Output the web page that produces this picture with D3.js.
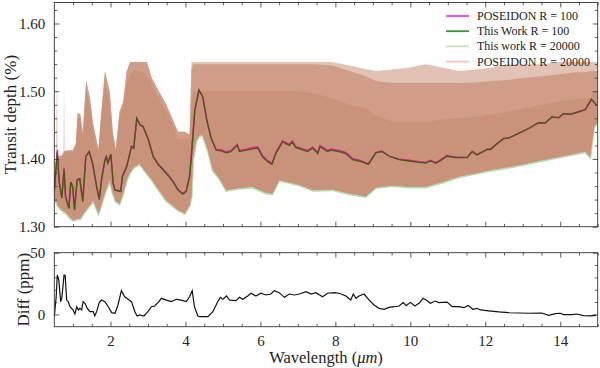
<!DOCTYPE html>
<html>
<head>
<meta charset="utf-8">
<script src="https://cdn.jsdelivr.net/npm/d3@7"></script>
<style>
  body { margin: 0; background: #fff; }
  text { font-family: "Liberation Serif", "DejaVu Serif", serif; fill: #222; }
</style>
</head>
<body>
<script>
// high resolution (R = 20000) spectra, read off as an envelope:
// lower edge, solid core top, dense-spike top, tallest spikes
var bandWl   = [0.50,0.55,0.57,0.59,0.64,0.70,0.745,0.76,0.775,0.83,0.90,1.00,1.08,1.12,1.19,1.26,1.35,1.45,1.54,1.62,1.68,1.74,1.85,1.98,2.06,2.14,2.24,2.34,2.43,2.52,2.62,2.78,2.97,3.10,3.23,3.49,3.67,3.80,3.98,4.11,4.16,4.20,4.29,4.38,4.46,4.60,4.73,4.90,5.09,5.44,5.79,6.15,6.32,6.50,7.03,7.40,7.92,8.37,8.81,9.08,9.52,9.97,10.41,10.85,11.30,11.74,12.18,12.63,13.07,13.51,13.96,14.40,14.67,14.80,14.90,15.00];
var bandLow  = [1.340,1.336,1.335,1.332,1.328,1.325,1.323,1.322,1.322,1.320,1.315,1.310,1.311,1.312,1.312,1.318,1.325,1.332,1.339,1.328,1.320,1.330,1.350,1.369,1.350,1.338,1.334,1.350,1.369,1.380,1.388,1.393,1.379,1.370,1.359,1.339,1.331,1.325,1.320,1.332,1.345,1.400,1.428,1.435,1.435,1.413,1.384,1.372,1.354,1.357,1.359,1.350,1.349,1.369,1.362,1.354,1.355,1.349,1.345,1.358,1.361,1.359,1.359,1.366,1.374,1.379,1.384,1.388,1.393,1.398,1.403,1.408,1.411,1.403,1.447,1.455];
var bandCore = [1.380,1.400,1.400,1.400,1.400,1.400,1.405,1.410,1.410,1.410,1.410,1.410,1.420,1.460,1.460,1.430,1.500,1.480,1.440,1.420,1.410,1.450,1.515,1.480,1.430,1.410,1.460,1.480,1.510,1.525,1.530,1.530,1.525,1.510,1.495,1.470,1.450,1.430,1.430,1.430,1.480,1.500,1.500,1.500,1.500,1.500,1.500,1.500,1.500,1.500,1.500,1.500,1.500,1.500,1.500,1.497,1.490,1.480,1.475,1.465,1.455,1.455,1.455,1.458,1.460,1.462,1.466,1.470,1.475,1.480,1.485,1.488,1.490,1.490,1.500,1.500];
var bandMid  = [1.380,1.400,1.400,1.400,1.405,1.405,1.410,1.410,1.412,1.412,1.413,1.413,1.425,1.467,1.467,1.440,1.516,1.490,1.450,1.430,1.415,1.460,1.529,1.500,1.440,1.415,1.470,1.485,1.529,1.543,1.543,1.543,1.543,1.520,1.506,1.480,1.457,1.440,1.440,1.436,1.530,1.540,1.540,1.540,1.540,1.540,1.540,1.540,1.540,1.540,1.540,1.540,1.540,1.540,1.540,1.540,1.538,1.530,1.522,1.515,1.512,1.512,1.512,1.512,1.512,1.513,1.515,1.517,1.520,1.522,1.525,1.528,1.528,1.530,1.530,1.530];
var bandMax  = [1.380,1.400,1.543,1.400,1.405,1.405,1.410,1.511,1.412,1.412,1.413,1.413,1.425,1.467,1.467,1.440,1.516,1.490,1.450,1.430,1.415,1.460,1.529,1.500,1.440,1.415,1.470,1.485,1.529,1.543,1.543,1.543,1.543,1.520,1.506,1.480,1.457,1.440,1.440,1.436,1.543,1.543,1.543,1.543,1.543,1.543,1.543,1.543,1.543,1.543,1.543,1.543,1.543,1.543,1.543,1.543,1.543,1.538,1.533,1.530,1.532,1.535,1.540,1.535,1.530,1.532,1.535,1.540,1.540,1.540,1.543,1.543,1.543,1.543,1.543,1.543];

// binned (R = 100) spectra
var lowWl = [0.50,0.58,0.63,0.70,0.76,0.80,0.89,0.94,0.99,1.04,1.11,1.18,1.26,1.34,1.43,1.52,1.63,1.70,1.76,1.85,1.89,1.93,2.01,2.07,2.12,2.27,2.32,2.43,2.56,2.62,2.70,2.79,2.87,3.01,3.14,3.28,3.40,3.53,3.67,3.80,3.93,4.02,4.11,4.16,4.25,4.36,4.46,4.57,4.69,4.82,4.95,5.09,5.22,5.38,5.44,5.62,5.79,5.93,6.06,6.19,6.31,6.41,6.59,6.77,6.85,6.94,7.26,7.39,7.53,7.59,7.79,7.88,8.10,8.28,8.46,8.63,8.88,9.08,9.24,9.43,9.70,9.97,10.23,10.41,10.54,10.68,10.76,10.98,11.21,11.52,11.65,11.78,12.05,12.14,12.27,12.49,12.63,12.89,13.16,13.42,13.60,13.78,13.96,14.09,14.27,14.49,14.67,14.83,14.97];
var thisWork100 = [1.352,1.410,1.366,1.342,1.384,1.344,1.327,1.366,1.359,1.325,1.369,1.371,1.337,1.403,1.411,1.394,1.359,1.340,1.369,1.398,1.403,1.394,1.407,1.364,1.354,1.352,1.374,1.388,1.418,1.416,1.460,1.450,1.4475,1.428,1.403,1.391,1.384,1.376,1.366,1.354,1.348,1.352,1.374,1.406,1.472,1.5016,1.492,1.457,1.430,1.413,1.412,1.409,1.411,1.420,1.411,1.413,1.415,1.416,1.403,1.396,1.392,1.408,1.425,1.420,1.425,1.417,1.411,1.416,1.408,1.418,1.411,1.413,1.411,1.408,1.399,1.397,1.392,1.409,1.411,1.404,1.399,1.397,1.395,1.394,1.397,1.3935,1.396,1.404,1.402,1.402,1.411,1.406,1.414,1.414,1.4205,1.430,1.431,1.4377,1.445,1.4535,1.453,1.462,1.461,1.467,1.466,1.4696,1.473,1.488,1.4795];
var poseidon100 = [1.352,1.413,1.367,1.343,1.387,1.345,1.327,1.366,1.359,1.325,1.369,1.371,1.338,1.404,1.411,1.394,1.359,1.341,1.370,1.399,1.404,1.394,1.407,1.364,1.354,1.353,1.376,1.389,1.419,1.416,1.460,1.450,1.4485,1.429,1.404,1.392,1.385,1.377,1.367,1.355,1.349,1.353,1.375,1.408,1.472,1.5016,1.492,1.457,1.430,1.414,1.4135,1.4105,1.4125,1.4215,1.4125,1.4145,1.417,1.4175,1.4045,1.3975,1.394,1.4095,1.427,1.4215,1.4265,1.4185,1.4125,1.4175,1.4095,1.4195,1.4125,1.4145,1.4125,1.4095,1.4005,1.3985,1.393,1.4095,1.4115,1.4045,1.3995,1.398,1.396,1.395,1.398,1.3945,1.397,1.405,1.4025,1.4025,1.4115,1.4065,1.4142,1.4142,1.4207,1.4302,1.4311,1.4378,1.4451,1.4536,1.453,1.462,1.461,1.467,1.466,1.4696,1.473,1.488,1.4795];

// difference POSEIDON - this work (ppm)
var diffWl = [0.50,0.55,0.58,0.62,0.67,0.70,0.76,0.79,0.83,0.87,0.92,0.96,1.00,1.05,1.10,1.14,1.18,1.23,1.27,1.32,1.38,1.45,1.54,1.58,1.63,1.70,1.76,1.85,1.94,2.03,2.12,2.20,2.29,2.38,2.47,2.56,2.65,2.71,2.78,2.89,3.00,3.09,3.18,3.29,3.36,3.49,3.62,3.76,3.89,4.02,4.11,4.18,4.24,4.33,4.38,4.60,4.73,4.86,4.93,5.00,5.09,5.18,5.35,5.44,5.53,5.66,5.75,5.88,6.01,6.15,6.28,6.37,6.50,6.64,6.77,6.91,7.04,7.22,7.35,7.48,7.66,7.79,7.97,8.10,8.28,8.41,8.48,8.55,8.63,8.77,8.86,9.03,9.17,9.30,9.43,9.57,9.70,9.81,9.89,10.00,10.12,10.23,10.34,10.45,10.54,10.66,10.76,10.98,11.12,11.30,11.43,11.54,11.67,11.78,11.87,12.09,12.36,12.63,12.89,13.16,13.51,13.69,13.87,14.00,14.09,14.31,14.44,14.62,14.80,14.96];
var diffPpm = [-2.0,14.3,31.9,27.9,10.3,13.0,31.9,31.5,11.6,10.3,6.2,4.9,3.6,0.3,6.2,3.6,4.9,3.6,10.3,9.0,4.9,2.2,2.2,-1.3,2.2,9.5,11.6,10.3,6.2,1.4,0.9,7.6,19.2,14.3,12.2,10.3,2.2,-1.3,-0.5,-1.3,2.2,6.2,6.8,10.3,13.0,11.6,10.3,12.2,11.6,10.3,14.3,19.2,6.2,-1.3,-1.9,-1.9,2.2,10.3,13.8,12.2,14.9,11.6,11.1,13.8,12.2,14.9,17.1,14.9,17.1,15.7,16.5,19.2,17.6,13.8,16.5,15.7,16.5,18.4,16.5,17.6,14.3,17.1,17.6,17.1,14.9,11.6,16.5,13.0,14.9,16.5,13.0,7.6,4.9,4.1,5.7,6.2,6.8,9.5,7.0,9.7,6.8,9.0,13.0,11.1,9.0,10.8,9.5,10.0,6.2,6.2,5.4,7.3,4.1,4.9,3.6,2.8,2.0,1.4,1.1,0.9,1.1,-0.8,0.6,0.9,-0.2,-0.2,0.3,-1.0,-1.3,-0.8];

var xTicks = [2, 4, 6, 8, 10, 12, 14];
var yTopTicks = [1.30, 1.40, 1.50, 1.60];
var yBotTicks = [0, 50];
var legendLabels = ["POSEIDON R = 100", "This Work R = 100", "This work R = 20000", "POSEIDON R = 20000"];
var legendColors = ["#f03cf0", "#36963a", "#c6e3c2", "#f5c3bd"];

var W = 600, H = 368;
var left = 54.3, right = 597.7;
var top1 = 2.5, bot1 = 226.7, top2 = 252.7, bot2 = 326.7;

var svg = d3.select("body").append("svg")
    .attr("width", W)
    .attr("height", H);

var x = d3.scaleLinear().domain([0.5, 15]).range([left, right]);
var y1 = d3.scaleLinear().domain([1.30, 1.631]).range([bot1, top1]);
var y2 = d3.scaleLinear().domain([-10, 50]).range([bot2, top2]);

var defs = svg.append("defs");
defs.append("clipPath").attr("id", "clipTop")
  .append("rect").attr("x", left).attr("y", top1).attr("width", right - left).attr("height", bot1 - top1);
defs.append("clipPath").attr("id", "clipBot")
  .append("rect").attr("x", left).attr("y", top2).attr("width", right - left).attr("height", bot2 - top2);

// ---- top panel ----
var gTop = svg.append("g").attr("clip-path", "url(#clipTop)");
var idx = d3.range(bandWl.length);

function band(topArr) {
  return d3.area()
    .x(function(i) { return x(bandWl[i]); })
    .y0(function(i) { return y1(bandLow[i]); })
    .y1(function(i) { return y1(topArr[i]); });
}

// green fringe of the R=20000 this-work spectrum along the lower edge
gTop.append("path")
    .datum(idx)
    .attr("fill", "none")
    .attr("stroke", "#b2dcb0")
    .attr("stroke-width", 2.2)
    .attr("d", d3.line().x(function(i) { return x(bandWl[i]); }).y(function(i) { return y1(bandLow[i]) + 0.6; }));

gTop.append("path").datum(idx).attr("fill", "#e2c2b4").attr("d", band(bandMax));   // sparse tall spikes
gTop.append("path").datum(idx).attr("fill", "#d09e88").attr("d", band(bandMid));   // dense spikes
gTop.append("path").datum(idx).attr("fill", "#c9937b").attr("d", band(bandCore));  // solid

var lowIdx = d3.range(lowWl.length);
gTop.append("path")
    .datum(lowIdx)
    .attr("fill", "none")
    .attr("stroke", "#e0219a")
    .attr("stroke-width", 1.5)
    .attr("d", d3.line().x(function(i) { return x(lowWl[i]); }).y(function(i) { return y1(poseidon100[i]); }));

gTop.append("path")
    .datum(lowIdx)
    .attr("fill", "none")
    .attr("stroke", "#4a5a12")
    .attr("stroke-width", 1.3)
    .attr("d", d3.line().x(function(i) { return x(lowWl[i]); }).y(function(i) { return y1(thisWork100[i]); }));

// ---- bottom panel ----
var dIdx = d3.range(diffWl.length);
svg.append("g").attr("clip-path", "url(#clipBot)")
  .append("path")
    .datum(dIdx)
    .attr("fill", "none")
    .attr("stroke", "#111")
    .attr("stroke-width", 1.2)
    .attr("d", d3.line().x(function(i) { return x(diffWl[i]); }).y(function(i) { return y2(diffPpm[i]); }));

// ---- axes ----
function frame(yScale, yT, yB, majorY, minorY, fmt, showX) {
  var xMinor = d3.range(1, 15.01, 0.5).filter(function(v) { return xTicks.indexOf(v) < 0; });

  svg.append("g").attr("transform", "translate(0," + yB + ")")
      .call(d3.axisBottom(x).tickValues(xTicks).tickSizeInner(-5).tickSizeOuter(0).tickPadding(9)
        .tickFormat(showX ? d3.format("d") : ""));
  svg.append("g").attr("transform", "translate(0," + yB + ")")
      .call(d3.axisBottom(x).tickValues(xMinor).tickSizeInner(-2.8).tickSizeOuter(0).tickFormat(""));
  svg.append("g").attr("transform", "translate(0," + yT + ")")
      .call(d3.axisTop(x).tickValues(xTicks).tickSizeInner(-5).tickSizeOuter(0).tickFormat(""));
  svg.append("g").attr("transform", "translate(0," + yT + ")")
      .call(d3.axisTop(x).tickValues(xMinor).tickSizeInner(-2.8).tickSizeOuter(0).tickFormat(""));

  svg.append("g").attr("transform", "translate(" + left + ",0)")
      .call(d3.axisLeft(yScale).tickValues(majorY).tickSizeInner(-5).tickSizeOuter(0).tickPadding(9).tickFormat(fmt));
  svg.append("g").attr("transform", "translate(" + left + ",0)")
      .call(d3.axisLeft(yScale).tickValues(minorY).tickSizeInner(-2.8).tickSizeOuter(0).tickFormat(""));
  svg.append("g").attr("transform", "translate(" + right + ",0)")
      .call(d3.axisRight(yScale).tickValues(majorY).tickSizeInner(-5).tickSizeOuter(0).tickFormat(""));
  svg.append("g").attr("transform", "translate(" + right + ",0)")
      .call(d3.axisRight(yScale).tickValues(minorY).tickSizeInner(-2.8).tickSizeOuter(0).tickFormat(""));

  svg.append("rect")
      .attr("x", left).attr("y", yT)
      .attr("width", right - left).attr("height", yB - yT)
      .attr("fill", "none").attr("stroke", "#333").attr("stroke-width", 0.9);
}

var yTopMinor = d3.range(1.32, 1.631, 0.02).filter(function(v) { return Math.abs(v * 10 - Math.round(v * 10)) > 0.01; });
frame(y1, top1, bot1, yTopTicks, yTopMinor, d3.format(".2f"), false);
frame(y2, top2, bot2, yBotTicks, [10, 20, 30, 40], d3.format("d"), true);

svg.selectAll(".domain").remove();
svg.selectAll(".tick line").attr("stroke", "#333").attr("stroke-width", 0.8);
svg.selectAll(".tick text")
    .style("font-family", "'Liberation Serif', serif")
    .style("font-size", "15px")
    .attr("fill", "#222");

// axis titles
svg.append("text")
    .attr("transform", "translate(16," + ((top1 + bot1) / 2) + ") rotate(-90)")
    .attr("text-anchor", "middle")
    .style("font-size", "17px")
    .text("Transit depth (%)");

svg.append("text")
    .attr("transform", "translate(29," + ((top2 + bot2) / 2) + ") rotate(-90)")
    .attr("text-anchor", "middle")
    .style("font-size", "17px")
    .text("Diff (ppm)");

var xt = svg.append("text")
    .attr("x", (left + right) / 2)
    .attr("y", 363)
    .attr("text-anchor", "middle")
    .style("font-size", "16.5px");
xt.append("tspan").text("Wavelength (");
xt.append("tspan").style("font-style", "italic").text("μm");
xt.append("tspan").text(")");

// legend
var lg = svg.append("g").attr("transform", "translate(446,16)");
legendLabels.forEach(function(lab, i) {
  lg.append("line")
      .attr("x1", 0).attr("x2", 23)
      .attr("y1", i * 15.2).attr("y2", i * 15.2)
      .attr("stroke", legendColors[i])
      .attr("stroke-width", 1.8);
  lg.append("text")
      .attr("x", 31)
      .attr("y", i * 15.2 + 4)
      .style("font-size", "12px")
      .text(lab);
});
</script>
</body>
</html>
